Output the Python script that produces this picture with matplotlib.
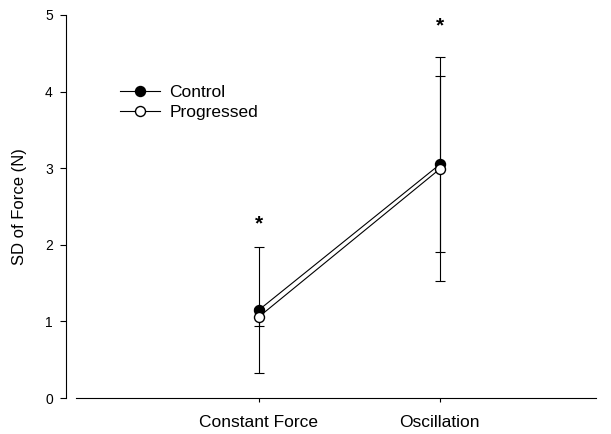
import matplotlib
matplotlib.use("Agg")
import matplotlib.pyplot as plt
from matplotlib.lines import Line2D

categories = ["Constant Force", "Oscillation"]
control_mean = [1.15, 3.05]
control_err = [0.82, 1.15]
progressed_mean = [1.06, 2.99]
progressed_err = [0.12, 1.46]
star_y = [2.27, 4.86]
y_ticks = [0, 1, 2, 3, 4, 5]

plt.rcParams['font.family'] = ['Liberation Sans', 'DejaVu Sans']

fig = plt.figure(figsize=(6.11, 4.34), dpi=100)
ax = fig.add_axes([76/611, 1-398/434, 520/611, 383/434])

x = list(range(len(categories)))
lw = 0.8
ms = 7.2
ax.errorbar(x, control_mean, yerr=control_err, color='black', lw=lw,
            marker='o', markersize=ms, markerfacecolor='black', markeredgecolor='black',
            capsize=3.8, elinewidth=lw, capthick=lw, zorder=3)
ax.errorbar(x, progressed_mean, yerr=progressed_err, color='black', lw=lw,
            marker='o', markersize=ms, markerfacecolor='white', markeredgecolor='black',
            capsize=3.8, elinewidth=lw, capthick=lw, zorder=4)

for xi, sy in zip(x, star_y):
    ax.text(xi, sy, '*', ha='center', va='center', fontsize=15, fontweight='bold')

ax.set_xlim(-1.011, 1.863)
ax.set_ylim(0, 5)
ax.set_yticks(y_ticks)
ax.set_xticks(x)
ax.set_xticklabels(categories)
ax.tick_params(axis='y', labelsize=10, width=lw, length=4.5, pad=5, direction='out')
ax.tick_params(axis='x', labelsize=12.5, width=lw, length=3, pad=9.5, direction='out')
ax.set_ylabel('SD of Force (N)', fontsize=12, labelpad=13)

ax.spines['top'].set_visible(False)
ax.spines['right'].set_visible(False)
ax.spines['left'].set_position(('outward', 7.2))
ax.spines['left'].set_linewidth(lw)
ax.spines['bottom'].set_linewidth(lw)

handles = [
    Line2D([], [], color='black', lw=lw, marker='o', markersize=ms,
           markerfacecolor='black', markeredgecolor='black'),
    Line2D([], [], color='black', lw=lw, marker='o', markersize=ms,
           markerfacecolor='white', markeredgecolor='black'),
]
ax.legend(handles, ['Control', 'Progressed'], loc='upper left',
          bbox_to_anchor=(0.084, 0.818), frameon=False, borderaxespad=0,
          borderpad=0, fontsize=12.5, handlelength=2.3, handletextpad=0.55,
          labelspacing=0.3)

fig.savefig('out.png', dpi=100)
